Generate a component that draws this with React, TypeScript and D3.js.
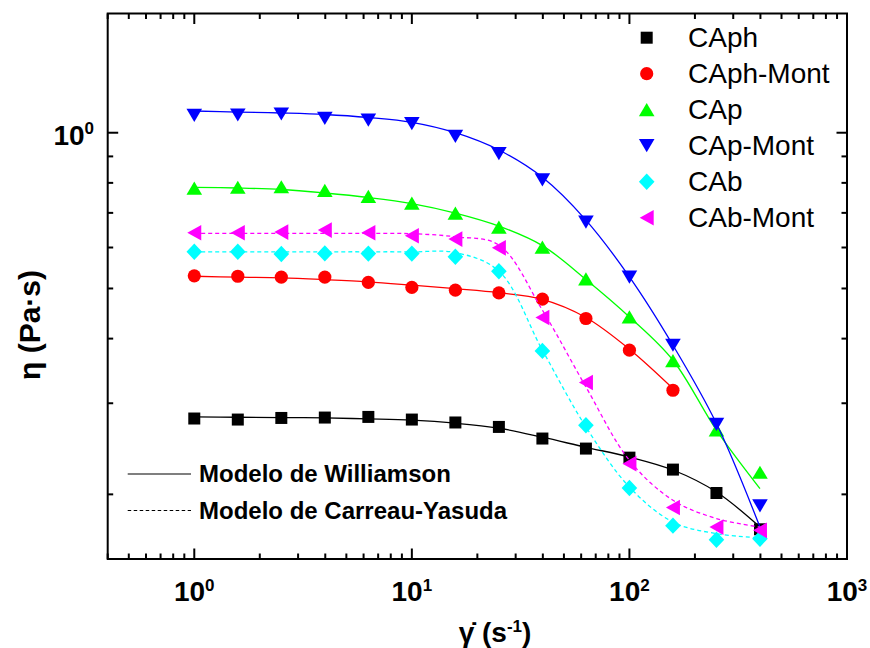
import React, { useEffect, useRef } from "react";
import * as d3 from "d3";

// shear rates (1/s), 5 points per decade
const shearRates = [1, 1.585, 2.512, 3.981, 6.31, 10, 15.85, 25.12, 39.81, 63.1, 100, 158.5, 251.2, 398.1];

const seriesNames = ["CAph", "CAph-Mont", "CAp", "CAp-Mont", "CAb", "CAb-Mont"];
const seriesColors = ["#000000", "#ff0000", "#00ff00", "#0000ff", "#00ffff", "#ff00ff"];
const seriesSymbols = ["square", "circle", "up", "down", "diamond", "left"];
const seriesDashed = [false, false, false, false, true, true];

// measured viscosity (Pa·s)
const caph = [0.2803, 0.279, 0.281, 0.2815, 0.2823, 0.279, 0.2754, 0.27, 0.2564, 0.2452, 0.2355, 0.2233, 0.2012, 0.1712];
const caphMont = [0.5289, 0.528, 0.526, 0.526, 0.5136, 0.5023, 0.4963, 0.4903, 0.4768, 0.4375, 0.38, 0.3179];
const cap = [0.7816, 0.7845, 0.7863, 0.774, 0.7534, 0.7313, 0.6994, 0.6571, 0.601, 0.522, 0.4405, 0.3628, 0.2665, 0.2207];
const capMont = [1.0805, 1.082, 1.087, 1.066, 1.058, 1.041, 0.984, 0.911, 0.811, 0.672, 0.526, 0.3884, 0.2732, 0.19];
const cab = [0.5887, 0.5887, 0.5828, 0.5845, 0.584, 0.584, 0.5757, 0.5398, 0.3787, 0.272, 0.2057, 0.174, 0.1634, 0.1642];
const cabMont = [0.6406, 0.6406, 0.6426, 0.6484, 0.6406, 0.6321, 0.6229, 0.5991, 0.4395, 0.329, 0.2293, 0.1886, 0.1729, 0.1704];

// model curves (Williamson / Carreau-Yasuda)
const caphFit = [0.2823, 0.2819, 0.2815, 0.281, 0.2798, 0.2782, 0.2745, 0.2685, 0.2579, 0.2466, 0.2362, 0.2229, 0.2021, 0.1729];
const caphMontFit = [0.528, 0.5257, 0.5241, 0.52, 0.5149, 0.5074, 0.4995, 0.4907, 0.4764, 0.4395, 0.3816, 0.3203];
const capFit = [0.7843, 0.7819, 0.7767, 0.7647, 0.7496, 0.7297, 0.6994, 0.6601, 0.6051, 0.5205, 0.4405, 0.3633, 0.2661, 0.2051];
const capMontFit = [1.1015, 1.0965, 1.0917, 1.0845, 1.0701, 1.0474, 1.0, 0.9259, 0.8199, 0.6778, 0.5265, 0.3884, 0.2741, 0.1729];
const cabFit = [0.5887, 0.5887, 0.5887, 0.5887, 0.5887, 0.5885, 0.5866, 0.5401, 0.38, 0.27, 0.2066, 0.1768, 0.1679, 0.1649];
const cabMontFit = [0.6389, 0.6389, 0.6389, 0.6389, 0.6389, 0.638, 0.6292, 0.6065, 0.454, 0.3226, 0.2327, 0.1948, 0.1796, 0.1729];

const modelNames = ["Modelo de Williamson", "Modelo de Carreau-Yasuda"];

const xMajorTicks = [1, 10, 100, 1000];
const xTickExp = ["0", "1", "2", "3"];
const yMajorTicks = [1];
const yTickExp = ["0"];

const FONT = "'Liberation Sans', Arial, Helvetica, sans-serif";

const symbolPath = (kind: string): string => {
	const p = d3.path();
	if (kind === "square") {
		p.rect(-6, -6, 12, 12);
	} else if (kind === "circle") {
		p.arc(0, 0, 6.6, 0, 2 * Math.PI);
	} else if (kind === "up") {
		p.moveTo(0, -6.6);
		p.lineTo(7.8, 6.6);
		p.lineTo(-7.8, 6.6);
	} else if (kind === "down") {
		p.moveTo(0, 6.6);
		p.lineTo(7.8, -6.6);
		p.lineTo(-7.8, -6.6);
	} else if (kind === "diamond") {
		p.moveTo(0, -8.2);
		p.lineTo(7.8, 0);
		p.lineTo(0, 8.2);
		p.lineTo(-7.8, 0);
	} else {
		p.moveTo(-7, 0);
		p.lineTo(7, -7.8);
		p.lineTo(7, 7.8);
	}
	p.closePath();
	return p.toString();
};

const drawChart = (svgRef) => {
	const width = 870,
		height = 648;
	const left = 107.7,
		right = 847,
		top = 13.5,
		bottom = 559;

	const x = d3.scaleLog().domain([0.4, 1000]).range([left, right]);
	const y = d3.scaleLog().domain([0.15, 1.7]).range([bottom, top]);

	const svg = d3.select(svgRef.current);
	svg.selectAll("*").remove();
	svg.attr("width", width).attr("height", height);

	svg.append("rect").attr("width", width).attr("height", height).attr("fill", "white");

	const measured = [caph, caphMont, cap, capMont, cab, cabMont];
	const fits = [caphFit, caphMontFit, capFit, capMontFit, cabFit, cabMontFit];

	const line = d3
		.line<[number, number]>()
		.x((d) => x(d[0]))
		.y((d) => y(d[1]))
		.curve(d3.curveCatmullRom.alpha(0.5));

	const plot = svg.append("g").attr("class", "plot");

	measured.forEach((vals, i) => {
		const fitPts: [number, number][] = fits[i].map((v, j) => [shearRates[j], v]);
		plot
			.append("path")
			.attr("d", line(fitPts))
			.attr("fill", "none")
			.attr("stroke", seriesColors[i])
			.attr("stroke-width", 1.3)
			.attr("stroke-dasharray", seriesDashed[i] ? "4,3" : null);

		plot
			.append("g")
			.selectAll("path")
			.data(vals.map((v, j) => [shearRates[j], v]))
			.enter()
			.append("path")
			.attr("d", symbolPath(seriesSymbols[i]))
			.attr("transform", (d) => `translate(${x(d[0])},${y(d[1])})`)
			.attr("fill", seriesColors[i]);
	});

	// frame
	svg
		.append("rect")
		.attr("x", left)
		.attr("y", top)
		.attr("width", right - left)
		.attr("height", bottom - top)
		.attr("fill", "none")
		.attr("stroke", "black")
		.attr("stroke-width", 2);

	// ticks, inward on all four sides
	const xMinor: number[] = [];
	[0.1, 1, 10, 100].forEach((dec) => {
		for (let k = 2; k <= 9; k++) {
			const v = dec * k;
			if (v >= 0.4 && v <= 1000) xMinor.push(v);
		}
	});
	const yMinor = [0.2, 0.3, 0.4, 0.5, 0.6, 0.7, 0.8, 0.9];

	const ticks = svg.append("g").attr("stroke", "black").attr("stroke-width", 2);
	const xTicks = [
		...xMajorTicks.map((v) => ({ v, len: 10.5 })),
		...xMinor.map((v) => ({ v, len: 5.5 })),
	];
	xTicks.forEach((t) => {
		ticks.append("line").attr("x1", x(t.v)).attr("x2", x(t.v)).attr("y1", bottom).attr("y2", bottom - t.len);
		ticks.append("line").attr("x1", x(t.v)).attr("x2", x(t.v)).attr("y1", top).attr("y2", top + t.len);
	});
	const yTicks = [
		...yMajorTicks.map((v) => ({ v, len: 10.5 })),
		...yMinor.map((v) => ({ v, len: 5.5 })),
	];
	yTicks.forEach((t) => {
		ticks.append("line").attr("y1", y(t.v)).attr("y2", y(t.v)).attr("x1", left).attr("x2", left + t.len);
		ticks.append("line").attr("y1", y(t.v)).attr("y2", y(t.v)).attr("x1", right).attr("x2", right - t.len);
	});

	// tick labels
	xMajorTicks.forEach((v, i) => {
		const t = svg
			.append("text")
			.attr("x", x(v))
			.attr("y", bottom + 42)
			.attr("text-anchor", "middle")
			.attr("font-family", FONT)
			.attr("font-weight", "bold")
			.attr("font-size", 28);
		t.append("tspan").text("10");
		t.append("tspan").attr("font-size", 17).attr("dy", -10).text(xTickExp[i]);
	});
	yMajorTicks.forEach((v, i) => {
		const t = svg
			.append("text")
			.attr("x", 94)
			.attr("y", y(v) + 12)
			.attr("text-anchor", "end")
			.attr("font-family", FONT)
			.attr("font-weight", "bold")
			.attr("font-size", 28);
		t.append("tspan").text("10");
		t.append("tspan").attr("font-size", 17).attr("dy", -11).text(yTickExp[i]);
	});

	// axis titles
	const xt = svg
		.append("text")
		.attr("x", 495)
		.attr("y", 642)
		.attr("text-anchor", "middle")
		.attr("font-family", FONT)
		.attr("font-weight", "bold")
		.attr("font-size", 28);
	xt.append("tspan").text("\u03B3\u0307 (s");
	xt.append("tspan").attr("font-size", 17).attr("dy", -10).text("-1");
	xt.append("tspan").attr("dy", 10).text(")");

	svg
		.append("text")
		.attr("transform", "translate(40,325) rotate(-90)")
		.attr("text-anchor", "middle")
		.attr("font-family", FONT)
		.attr("font-weight", "bold")
		.attr("font-size", 30)
		.text("η (Pa·s)");

	// series legend
	const legend = svg.append("g").attr("class", "legend");
	seriesNames.forEach((name, i) => {
		const cy = 37.7 + i * 36;
		legend
			.append("path")
			.attr("d", symbolPath(seriesSymbols[i]))
			.attr("transform", `translate(646.7,${cy})`)
			.attr("fill", seriesColors[i]);
		legend
			.append("text")
			.attr("x", 688)
			.attr("y", cy + 9.5)
			.attr("font-family", FONT)
			.attr("font-size", 28)
			.text(name);
	});

	// model legend
	modelNames.forEach((name, i) => {
		const cy = 474 + i * 36.5;
		legend
			.append("line")
			.attr("x1", 127.7)
			.attr("x2", 191)
			.attr("y1", cy)
			.attr("y2", cy)
			.attr("stroke", "black")
			.attr("stroke-width", 1.2)
			.attr("stroke-dasharray", i === 1 ? "3.5,2.5" : null);
		legend
			.append("text")
			.attr("x", 199)
			.attr("y", cy + 8)
			.attr("font-family", FONT)
			.attr("font-weight", "bold")
			.attr("font-size", 24)
			.text(name);
	});
};

const App = () => {
	const svg = useRef(null);

	useEffect(() => {
		drawChart(svg);
	}, []);

	return (
		<div style={{ position: "absolute", left: 0, top: 0 }}>
			<svg ref={svg} style={{ display: "block" }} />
		</div>
	);
};

export default App;
